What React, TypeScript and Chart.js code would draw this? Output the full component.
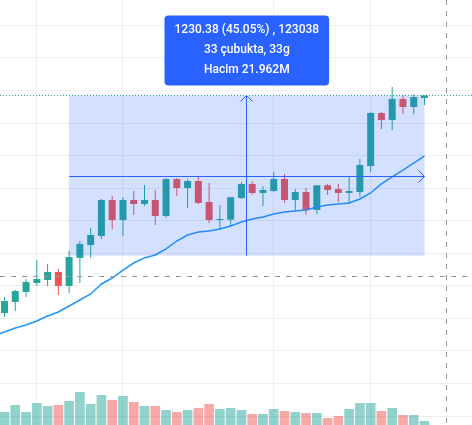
import React, { useEffect, useRef } from "react";
import { Chart, registerables } from "chart.js";

Chart.register(...registerables);

// Daily bars (index 0 = oldest)
const opens = [
  2291, 2376, 2452, 2522, 2545, 2606, 2499, 2714, 2813, 2883,
  3159, 3005, 3159, 3128, 3159, 3036, 3320, 3251, 3305, 3144,
  3005, 3008, 3174, 3282, 3213, 3228, 3320, 3159, 3220, 3082,
  3272, 3243, 3213, 3220, 3420, 3827, 3773, 3935, 3873, 3942,
];
const highs = [
  2414, 2468, 2552, 2698, 2667, 2629, 2767, 2844, 2944, 3167,
  3190, 3182, 3228, 3274, 3236, 3328, 3328, 3320, 3336, 3289,
  3121, 3182, 3297, 3305, 3266, 3374, 3359, 3243, 3251, 3274,
  3282, 3282, 3343, 3474, 3835, 3835, 4027, 3965, 3973, 3962,
];
const lows = [
  2261, 2307, 2414, 2499, 2499, 2429, 2445, 2522, 2714, 2859,
  2936, 2883, 3044, 3113, 2967, 3021, 3190, 3098, 3128, 2982,
  2936, 2952, 3167, 3197, 3113, 3220, 3136, 3067, 3044, 3051,
  3197, 3144, 3128, 3182, 3374, 3704, 3696, 3819, 3819, 3888,
];
const closes = [
  2383, 2460, 2529, 2552, 2606, 2499, 2721, 2821, 2890, 3159,
  3005, 3159, 3128, 3159, 3036, 3320, 3251, 3305, 3136, 3005,
  3013, 3180, 3282, 3213, 3236, 3320, 3159, 3220, 3082, 3272,
  3236, 3213, 3228, 3428, 3827, 3773, 3935, 3873, 3950, 3961.55,
];
// Volume in millions
const volumes = [
  0.502, 0.772, 0.502, 0.849, 0.733, 0.772, 0.926, 1.274, 0.811, 1.158,
  0.965, 1.119, 0.888, 0.733, 0.733, 0.579, 0.502, 0.579, 0.656, 0.811,
  0.618, 0.656, 0.579, 0.425, 0.425, 0.618, 0.54, 0.502, 0.463, 0.463,
  0.27, 0.347, 0.618, 0.849, 0.849, 0.54, 0.656, 0.386, 0.386, 0.154,
];
// Moving average of the close, starting one bar before the first visible bar
const MA_FIRST_BAR = -1;
const maValues = [
  2115,
  2145, 2176, 2199, 2230, 2268, 2299, 2345, 2391, 2437, 2514,
  2560, 2621, 2675, 2714, 2737, 2783, 2844, 2890, 2913, 2921,
  2936, 2959, 2990, 3013, 3028, 3051, 3067, 3074, 3082, 3105,
  3120, 3128, 3136, 3167, 3213, 3282, 3336, 3389, 3443, 3497,
];

// Price grid (every 250) and time grid (month starts, by bar index)
const priceTicks = [1500, 1750, 2000, 2250, 2500, 2750, 3000, 3250, 3500, 3750, 4000, 4250, 4500];
const timeTicks = [3, 11, 25, 34];

// Visible ranges
const X_MIN = -0.418;
const X_MAX = 43.41;
const PRICE_MIN = 1431.1;
const PRICE_MAX = 4694.8;
const VOLUME_MAX = 16.405;

// Measurement from bar 6 to bar 39
const measureStart = { bar: 6, price: 2731.17 };
const measureEnd = { bar: 39, price: 3961.55 };
const measureVolume = "21.962M";

// Crosshair position
const cursor = { bar: 41, price: 2568 };

const UP = "#26a69a";
const DOWN = "#ef5350";
const UP_VOL = "rgba(38,166,154,0.5)";
const DOWN_VOL = "rgba(239,83,80,0.5)";
const BLUE = "#2962ff";

const paneDecor = {
  id: "paneDecor",
  beforeDatasetsDraw(chart: any) {
    const { ctx, chartArea, scales } = chart;
    const x = scales.x;
    const y = scales.y;
    ctx.save();
    ctx.strokeStyle = "#eeeeee";
    ctx.lineWidth = 1;
    ctx.beginPath();
    for (const p of priceTicks) {
      const py = Math.floor(y.getPixelForValue(p)) + 0.5;
      ctx.moveTo(chartArea.left, py);
      ctx.lineTo(chartArea.right, py);
    }
    for (const b of timeTicks) {
      const px = Math.floor(x.getPixelForValue(b)) + 0.5;
      ctx.moveTo(px, chartArea.top);
      ctx.lineTo(px, chartArea.bottom);
    }
    ctx.stroke();
    ctx.restore();
  },
  afterDatasetsDraw(chart: any) {
    const { ctx, chartArea, scales } = chart;
    const x = scales.x;
    const y = scales.y;
    ctx.save();

    // measurement box
    const x1 = x.getPixelForValue(measureStart.bar);
    const x2 = x.getPixelForValue(measureEnd.bar);
    const yTop = y.getPixelForValue(measureEnd.price);
    const yBot = y.getPixelForValue(measureStart.price);
    ctx.fillStyle = "rgba(41,98,255,0.2)";
    ctx.fillRect(x1, yTop, x2 - x1, yBot - yTop);

    const midX = Math.floor((x1 + x2) / 2) + 0.5;
    const midY = Math.round((yTop + yBot) / 2) + 0.5;
    ctx.strokeStyle = BLUE;
    ctx.lineWidth = 1;
    ctx.beginPath();
    ctx.moveTo(x1, midY);
    ctx.lineTo(x2, midY);
    ctx.moveTo(x2 - 6, midY - 6);
    ctx.lineTo(x2, midY);
    ctx.lineTo(x2 - 6, midY + 6);
    ctx.moveTo(midX, yBot);
    ctx.lineTo(midX, yTop);
    ctx.moveTo(midX - 6, yTop + 6);
    ctx.lineTo(midX, yTop);
    ctx.lineTo(midX + 6, yTop + 6);
    ctx.stroke();

    // last price line
    const lastClose = closes[closes.length - 1];
    const py = Math.floor(y.getPixelForValue(lastClose)) + 0.5;
    ctx.strokeStyle = UP;
    ctx.setLineDash([1, 2]);
    ctx.beginPath();
    ctx.moveTo(chartArea.left, py);
    ctx.lineTo(chartArea.right, py);
    ctx.stroke();

    // crosshair
    ctx.strokeStyle = "#9598a1";
    ctx.setLineDash([5, 6]);
    const cx = Math.floor(x.getPixelForValue(cursor.bar)) + 0.5;
    const cy = Math.floor(y.getPixelForValue(cursor.price)) + 0.5;
    ctx.beginPath();
    ctx.moveTo(chartArea.left, cy);
    ctx.lineTo(chartArea.right, cy);
    ctx.moveTo(cx, chartArea.top);
    ctx.lineTo(cx, chartArea.bottom);
    ctx.stroke();
    ctx.setLineDash([]);

    // measurement label
    const diff = measureEnd.price - measureStart.price;
    const pct = (diff / measureStart.price) * 100;
    const bars = measureEnd.bar - measureStart.bar;
    const lines = [
      `${diff.toFixed(2)} (${pct.toFixed(2)}%) , ${Math.round(diff * 100)}`,
      `${bars} çubukta, ${bars}g`,
      `Hacim ${measureVolume}`,
    ];
    ctx.font = "500 12px Roboto";
    const w = Math.max(...lines.map((l) => ctx.measureText(l).width)) + 20;
    const h = 70;
    const bx = (x1 + x2) / 2 - w / 2;
    const by = yTop - 10 - h;
    ctx.fillStyle = BLUE;
    ctx.beginPath();
    ctx.roundRect(bx, by, w, h, 4);
    ctx.fill();
    ctx.fillStyle = "#ffffff";
    ctx.textAlign = "center";
    ctx.textBaseline = "middle";
    lines.forEach((l, i) => ctx.fillText(l, (x1 + x2) / 2, by + 15 + i * 20));

    ctx.restore();
  },
};

export default function App() {
  const ref = useRef<HTMLCanvasElement>(null);

  useEffect(() => {
    const idx = closes.map((_, i) => i);
    const isUp = idx.map((i) => closes[i] >= opens[i]);
    const chart = new Chart(ref.current as HTMLCanvasElement, {
      type: "bar",
      data: {
        datasets: [
          {
            type: "line",
            data: maValues.map((v, i) => ({ x: MA_FIRST_BAR + i, y: v })),
            borderColor: "#2196f3",
            borderWidth: 1.5,
            pointRadius: 0,
            tension: 0,
            yAxisID: "y",
            order: 0,
          } as any,
          {
            type: "bar",
            data: idx.map((i) => ({ x: i, y: [opens[i], closes[i]] })),
            backgroundColor: isUp.map((u) => (u ? UP : DOWN)),
            barThickness: 7,
            grouped: false,
            inflateAmount: 0,
            yAxisID: "y",
            order: 1,
          } as any,
          {
            type: "bar",
            data: idx.map((i) => ({ x: i, y: [lows[i], highs[i]] })),
            backgroundColor: isUp.map((u) => (u ? UP : DOWN)),
            barThickness: 1,
            grouped: false,
            inflateAmount: 0,
            yAxisID: "y",
            order: 2,
          } as any,
          {
            type: "bar",
            data: idx.map((i) => ({ x: i, y: volumes[i] })),
            backgroundColor: isUp.map((u) => (u ? UP_VOL : DOWN_VOL)),
            categoryPercentage: 1,
            barPercentage: 0.9,
            grouped: false,
            inflateAmount: 0,
            yAxisID: "yv",
            order: 3,
          } as any,
        ],
      },
      options: {
        responsive: false,
        animation: false,
        events: [],
        layout: { padding: 0 },
        plugins: { legend: { display: false }, tooltip: { enabled: false } },
        scales: {
          x: { type: "linear", display: false, offset: false, min: X_MIN, max: X_MAX },
          y: { type: "linear", display: false, min: PRICE_MIN, max: PRICE_MAX },
          yv: { type: "linear", display: false, min: 0, max: VOLUME_MAX },
        },
      },
      plugins: [paneDecor],
    });
    return () => chart.destroy();
  }, []);

  return (
    <canvas
      ref={ref}
      width={472}
      height={425}
      style={{ position: "fixed", left: 0, top: 0, display: "block", background: "#ffffff" }}
    />
  );
}
